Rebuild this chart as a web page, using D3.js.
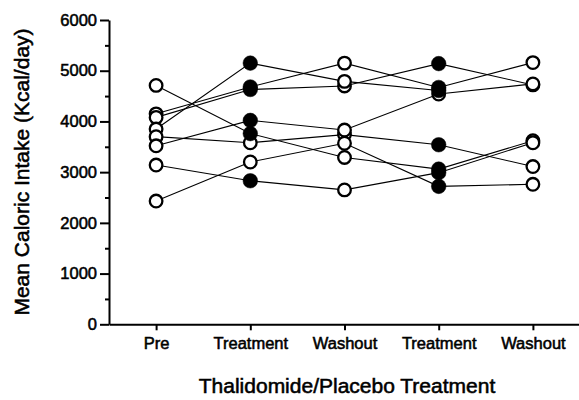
<!DOCTYPE html>
<html>
<head>
<meta charset="utf-8">
<script src="https://cdn.jsdelivr.net/npm/d3@7"></script>
<style>
    body { margin: 0; background: #fff; }
    svg text { font-family: "Liberation Sans", Arial, sans-serif; fill: #000; }
</style>
</head>
<body>
<svg id="chart" width="579" height="400"></svg>
<script>
// phases along the x axis
const phases = ["Pre", "Treatment", "Washout", "Treatment", "Washout"];

// mean caloric intake (kcal/day) for each subject, one value per phase
const intake = [
    [4710, 3760, 3290, 3060, 3620],
    [4150, 4680, 5150, 4670, 5160],
    [4080, 4630, 4700, 5140, 4720],
    [3850, 5150, 4790, 4610, null],
    [3700, 3580, 3740, 3540, 3110],
    [3520, 4020, 3830, 4540, 4740],
    [3140, 2830, 2650, 2990, 3580],
    [2430, 3200, 3570, 2720, 2760],
];

// 1 = filled marker (thalidomide), 0 = open marker
const filled = [
    [0, 1, 0, 1, 0],
    [0, 1, 0, 1, 0],
    [0, 1, 0, 1, 0],
    [0, 1, 0, 1, 0],
    [0, 0, 0, 1, 0],
    [0, 1, 0, 0, 0],
    [0, 1, 0, 1, 0],
    [0, 0, 0, 1, 0],
];

const yTicks = [0, 1000, 2000, 3000, 4000, 5000, 6000];
const yMinorTicks = [500, 1500, 2500, 3500, 4500, 5500];

const svg = d3.select("#chart");

const x = d3.scalePoint()
    .domain(d3.range(phases.length))
    .range([109, 580])
    .padding(0.5);

const y = d3.scaleLinear()
    .domain([0, 6000])
    .range([324.3, 20]);

// scanned-looking heavy text
const heavy = sel => sel.attr("stroke", "#000").attr("stroke-width", 0.55);

// minor ticks first, then the main axis on top
svg.append("g")
    .attr("transform", "translate(109,0)")
    .call(d3.axisLeft(y).tickValues(yMinorTicks).tickSize(4).tickFormat(""))
    .call(g => g.select(".domain").remove())
    .call(g => g.selectAll("line").attr("stroke-width", 2));

svg.append("g")
    .attr("transform", "translate(109,0)")
    .call(d3.axisLeft(y).tickValues(yTicks).tickSize(9).tickSizeOuter(0).tickPadding(3)
        .tickFormat(d3.format("d")))
    .call(g => g.select(".domain").attr("stroke-width", 2))
    .call(g => g.selectAll("line").attr("stroke-width", 2))
    .call(g => g.selectAll("text").attr("font-size", 16.5).call(heavy));

svg.append("g")
    .attr("transform", "translate(0,324.3)")
    .call(d3.axisBottom(x).tickSize(6).tickSizeOuter(0).tickPadding(7)
        .tickFormat(i => phases[i]))
    .call(g => g.select(".domain").attr("stroke-width", 2))
    .call(g => g.selectAll("line").attr("stroke-width", 2))
    .call(g => g.selectAll("text").attr("font-size", 16.5).call(heavy));

// axis titles
svg.append("text")
    .attr("transform", "rotate(-90)")
    .attr("x", -172)
    .attr("y", 28.5)
    .attr("text-anchor", "middle")
    .attr("font-size", 21)
    .call(heavy)
    .text("Mean Caloric Intake (Kcal/day)");

svg.append("text")
    .attr("x", 347)
    .attr("y", 393)
    .attr("text-anchor", "middle")
    .attr("font-size", 21)
    .call(heavy)
    .text("Thalidomide/Placebo Treatment");

// subject lines
const line = d3.line()
    .defined(d => d != null)
    .x((d, i) => x(i))
    .y(d => y(d));

svg.append("g")
    .selectAll("path")
    .data(intake)
    .join("path")
    .attr("d", line)
    .attr("fill", "none")
    .attr("stroke", "#000")
    .attr("stroke-width", 1.1);

// markers: open ones first so filled ones sit on top
const points = [];
intake.forEach((row, s) => {
    row.forEach((v, i) => {
        if (v != null) points.push({ i, v, f: filled[s][i] });
    });
});
points.sort((a, b) => a.f - b.f);

svg.append("g")
    .selectAll("circle")
    .data(points)
    .join("circle")
    .attr("cx", d => x(d.i))
    .attr("cy", d => y(d.v))
    .attr("r", d => d.f ? 7.3 : 6.3)
    .attr("fill", d => d.f ? "#000" : "#fff")
    .attr("stroke", "#000")
    .attr("stroke-width", d => d.f ? 0.5 : 2.3);
</script>
</body>
</html>
